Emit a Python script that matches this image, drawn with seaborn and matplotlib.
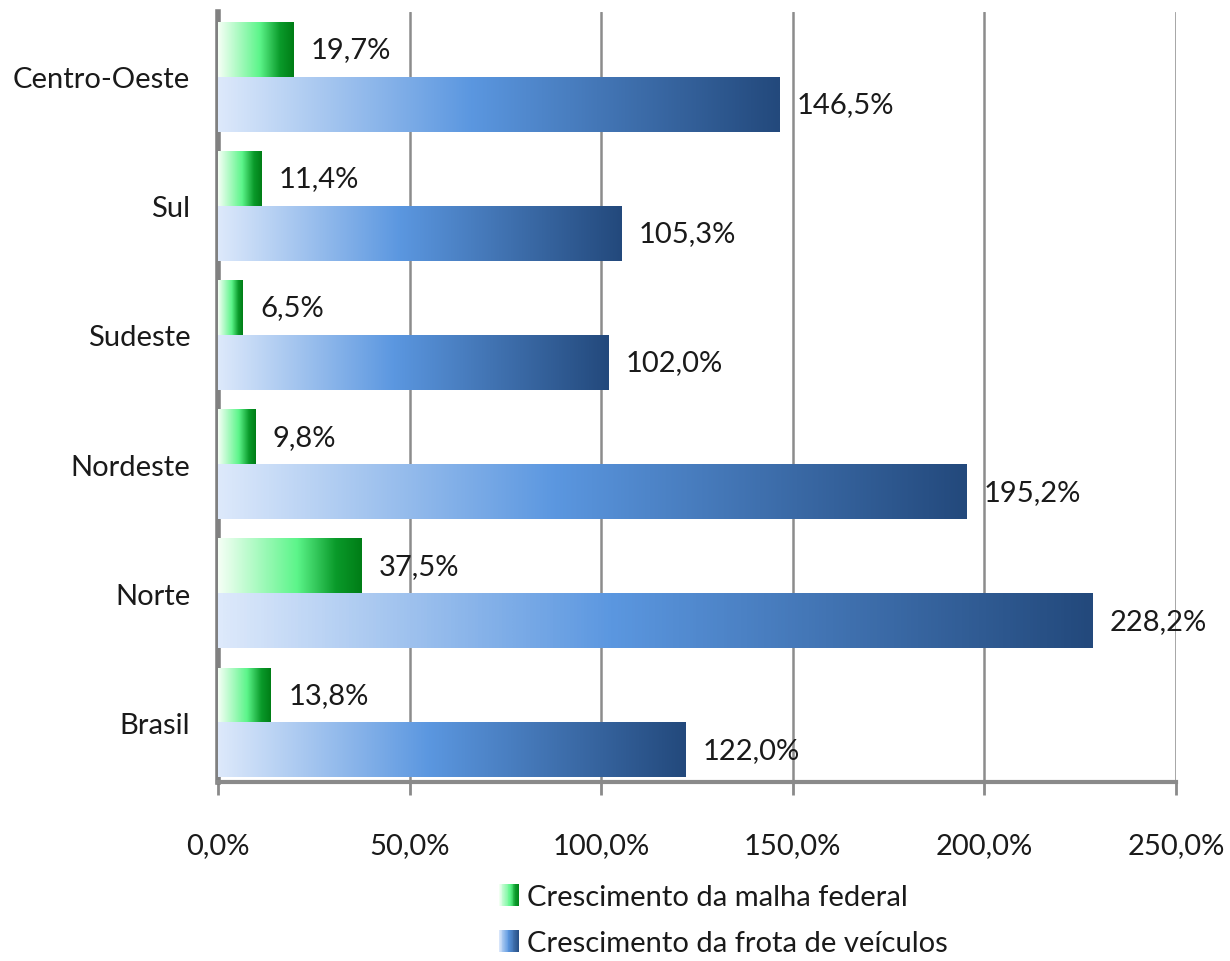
import numpy as np
import pandas as pd
import matplotlib
matplotlib.use("Agg")
import matplotlib.pyplot as plt
import seaborn as sns
from matplotlib.colors import LinearSegmentedColormap
from matplotlib.legend_handler import HandlerBase
from matplotlib.patches import Rectangle, Patch

# Data
regions = ["Centro-Oeste", "Sul", "Sudeste", "Nordeste", "Norte", "Brasil"]
malha_federal = [19.7, 11.4, 6.5, 9.8, 37.5, 13.8]
frota_veiculos = [146.5, 105.3, 102.0, 195.2, 228.2, 122.0]
series_names = ["Crescimento da malha federal", "Crescimento da frota de veículos"]
x_ticks = [0, 50, 100, 150, 200, 250]

df = pd.DataFrame({
    "regiao": regions * 2,
    "serie": [series_names[0]] * len(regions) + [series_names[1]] * len(regions),
    "valor": malha_federal + frota_veiculos,
})

sns.set_theme(style="white")
plt.rcParams["font.family"] = ["Lato", "DejaVu Sans"]

# gradient colormaps (light -> dark, per bar)
green_cmap = LinearSegmentedColormap.from_list(
    "green", [(0, "#f6fff6"), (0.55, "#5cf58a"), (0.82, "#0a9a2a"), (1, "#007d16")])
blue_cmap = LinearSegmentedColormap.from_list(
    "blue", [(0, "#dde9fb"), (0.45, "#5b97e0"), (1, "#23497c")])
cmaps = [green_cmap, blue_cmap]

fig = plt.figure(figsize=(12.3, 9.62), dpi=100)
ax = fig.add_axes([218 / 1230, 1 - 783 / 962, (1176 - 218) / 1230, (783 - 13) / 962])

sns.barplot(data=df, y="regiao", x="valor", hue="serie", orient="h",
            order=regions, hue_order=series_names, width=0.85,
            palette=["#30c060", "#4a80c8"], legend=False, ax=ax, zorder=3)

grad = np.linspace(0, 1, 256).reshape(1, -1)
txt_color = "#1a1a1a"
fs = 21

for cont, cmap in zip(ax.containers, cmaps):
    for bar in cont:
        x0, y0 = bar.get_x(), bar.get_y()
        w, h = bar.get_width(), bar.get_height()
        bar.set_facecolor("none")
        bar.set_edgecolor("none")
        ax.imshow(grad, extent=[x0, x0 + w, y0 + h, y0], aspect="auto",
                  cmap=cmap, zorder=3, interpolation="bilinear")
        label = f"{w:.1f}%".replace(".", ",")
        ax.text(x0 + w + 4.5, y0 + h / 2, label, va="center", ha="left",
                fontsize=fs, color=txt_color, zorder=4)

ax.set_xlim(0, 250)
ax.set_ylim(len(regions) - 0.54, -0.5)
ax.set_xticks(x_ticks)
ax.set_xticklabels([f"{t:.1f}%".replace(".", ",") for t in x_ticks])
ax.set_xlabel("")
ax.set_ylabel("")

ax.grid(axis="x", color="#8c8c8c", linewidth=1.8, zorder=0)
ax.grid(axis="y", visible=False)
for s in ["top", "right"]:
    ax.spines[s].set_visible(False)
ax.spines["left"].set_color("#808080")
ax.spines["left"].set_linewidth(4)
ax.spines["bottom"].set_color("#8a8a8a")
ax.spines["bottom"].set_linewidth(3)
ax.tick_params(axis="x", direction="out", length=9, width=2, color="#8a8a8a",
               pad=27, labelsize=fs, labelcolor=txt_color, bottom=True)
ax.tick_params(axis="y", length=0, pad=20, labelsize=fs, labelcolor=txt_color)


class GradientHandler(HandlerBase):
    def __init__(self, cmap, n=24):
        super().__init__()
        self.cmap = cmap
        self.n = n

    def create_artists(self, legend, orig_handle, xdescent, ydescent,
                       width, height, fontsize, trans):
        arts = []
        step = width / self.n
        for k in range(self.n):
            r = Rectangle((-xdescent + k * step, -ydescent), step * 1.05, height,
                          facecolor=self.cmap((k + 0.5) / self.n),
                          edgecolor="none", linewidth=0, transform=trans)
            arts.append(r)
        return arts


handles = [Patch(label=series_names[0]), Patch(label=series_names[1])]
fig.legend(handles=handles, labels=series_names,
           handler_map={handles[0]: GradientHandler(green_cmap),
                        handles[1]: GradientHandler(blue_cmap)},
           loc="upper left", bbox_to_anchor=(499 / 1230, 1 - 885 / 962),
           frameon=False, fontsize=fs, labelcolor=txt_color,
           handlelength=0.7, handleheight=0.8, handletextpad=0.25,
           labelspacing=0.68, borderpad=0, borderaxespad=0)

fig.savefig("out.png", dpi=100)
